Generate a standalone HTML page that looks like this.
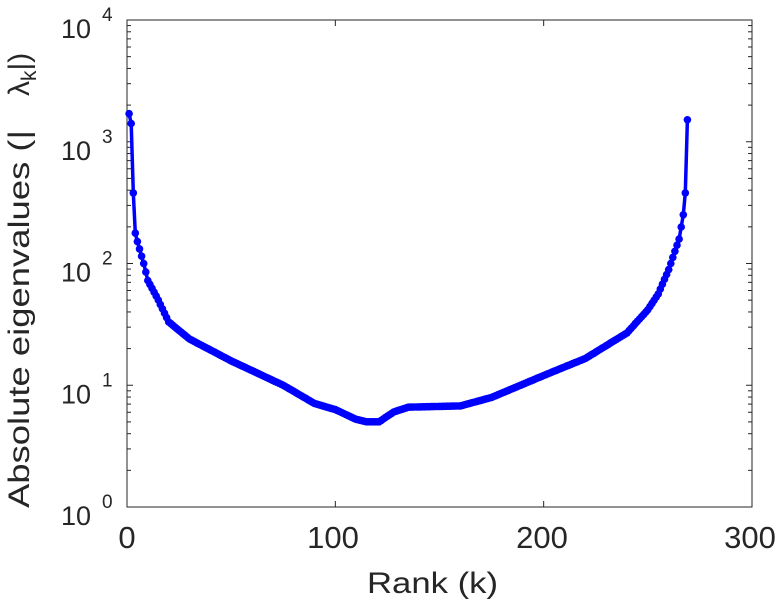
<!DOCTYPE html>
<html><head><meta charset="utf-8"><style>
body{margin:0;background:#fff;width:783px;height:600px;overflow:hidden}
text{font-family:"Liberation Sans",sans-serif;fill:#262626}
</style></head><body>
<svg id="s" width="783" height="600" xmlns="http://www.w3.org/2000/svg">
<rect x="127" y="20" width="625" height="487" fill="#fff" stroke="#262626" stroke-width="1"/>
<g id="ticks" stroke="#262626" stroke-width="1"></g>
<g id="data"></g>
<g font-size="31">
<text x="127" y="548" text-anchor="middle">0</text>
<text x="333" y="548" text-anchor="middle">100</text>
<text x="542" y="548" text-anchor="middle">200</text>
<text x="750" y="548" text-anchor="middle">300</text>
<g id="yl" font-size="27"></g>
<text x="367" y="593" font-size="30" textLength="131" lengthAdjust="spacingAndGlyphs">Rank (k)</text>
<text transform="translate(29,508) rotate(-90)" font-size="30" textLength="378" lengthAdjust="spacingAndGlyphs">Absolute eigenvalues (|</text>
<text transform="translate(29,96) rotate(-90)" font-size="30">&#955;<tspan font-size="21" dy="7">k</tspan><tspan dy="-7">|)</tspan></text>
</g>
</svg>
<script>
var X=k=>127+k*625/300, Y=l=>507-l*121.75;
var yl='';for(var d=0;d<=4;d++){var y=Y(d);yl+='<text x="61" y="'+(y+18)+'">10</text><text x="102" y="'+(y+1)+'" font-size="19">'+d+'</text>';}
document.getElementById('yl').innerHTML=yl;
var t=document.getElementById('ticks'),h='';
for(var d=0;d<4;d++)for(var m=1;m<10;m++){var y=Y(d+Math.log10(m));h+='<line x1="127" x2="'+(m==1?133:131)+'" y1="'+y+'" y2="'+y+'"/><line x1="752" x2="'+(m==1?746:748)+'" y1="'+y+'" y2="'+y+'"/>';}
[0,100,200,300].forEach(k=>{h+='<line x1="'+X(k)+'" x2="'+X(k)+'" y1="507" y2="501"/><line x1="'+X(k)+'" x2="'+X(k)+'" y1="20" y2="26"/>';});
t.innerHTML=h;
var kn=[[1,3.23],[2,3.15],[3,2.58],[4,2.25],[5,2.18],[8,2.0],[10,1.86],[15,1.7],[20,1.52],[30,1.38],[50,1.2],[75,1.0],[90,0.85],[100,0.8],[110,0.72],[115,0.7],[121,0.7],[128,0.78],[135,0.82],[160,0.83],[175,0.9],[200,1.08],[220,1.22],[240,1.43],[250,1.62],[255,1.75],[260,1.95],[265,2.2],[267,2.4],[268,2.58],[269,3.18]];
function f(k){for(var i=1;i<kn.length;i++)if(k<=kn[i][0]){var a=kn[i-1],b=kn[i];return a[1]+(b[1]-a[1])*(k-a[0])/(b[0]-a[0]);}return kn[kn.length-1][1];}
var p='',c='';
for(var k=1;k<=269;k++){var x=X(k),y=Y(f(k));p+=(k==1?'M':'L')+x.toFixed(1)+' '+y.toFixed(1);c+='<circle cx="'+x.toFixed(1)+'" cy="'+y.toFixed(1)+'" r="3.8"/>';}
document.getElementById('data').innerHTML='<path d="'+p+'" fill="none" stroke="#0000ff" stroke-width="3.5"/><g fill="#0000ff">'+c+'</g>';
</script>
</body></html>
